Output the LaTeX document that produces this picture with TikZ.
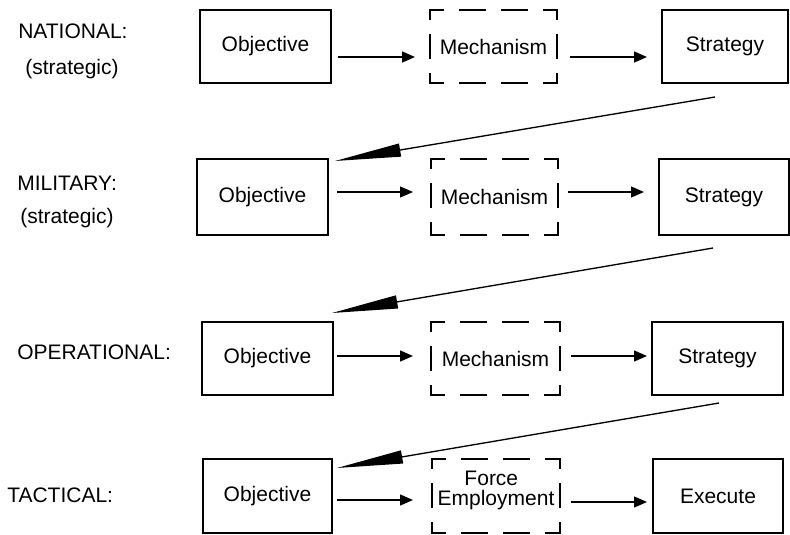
\documentclass[tikz,border=0pt]{standalone}
\usepackage{fontspec}
\setmainfont{Liberation Sans}
\usetikzlibrary{arrows.meta,calc}
\newcommand\dbox[1]{%
  \draw[hdash] (#1.north west) -- (#1.north east);
  \draw[hdash] (#1.south west) -- (#1.south east);
  \draw[vdash] (#1.north west) -- (#1.south west);
  \draw[vdash] (#1.north east) -- (#1.south east);}
\begin{document}
\begin{tikzpicture}[x=0.75pt,y=-0.75pt,
  txt/.style={font=\fontsize{15.75}{14.5}\selectfont},
  bx/.style 2 args={txt,line width=1.5pt,minimum width=#1*0.75pt,minimum height=#2*0.75pt,inner sep=0pt,outer sep=0pt,align=center},
  sbox/.style 2 args={bx={#1}{#2},draw},
  hdash/.style={line width=1.5pt,line cap=rect,dash pattern=on 18.75pt off 12.75pt,dash phase=9pt},
  vdash/.style={line width=1.5pt,line cap=rect,dash pattern=on 17.25pt off 12pt,dash phase=10.5pt},
  arr/.style={line width=1pt,-{Triangle[length=9.75pt,width=8.25pt]}},
  darr/.style={line width=1pt,-{Triangle[length=49.5pt,width=9.75pt]}},
  lab/.style={txt,anchor=west,inner sep=0pt}]
\useasboundingbox (0,0) rectangle (790,535);

% labels
\node[lab] (l1) at (18,31) {NATIONAL:};
\node[lab] (l1b) at (25,69) {(strategic)};
\node[lab] (l2) at (17,183) {MILITARY:};
\node[lab] (l2b) at (20,218) {(strategic)};
\node[lab] (l3) at (17,352) {OPERATIONAL:};
\node[lab] (l4) at (7,495) {TACTICAL:};

% row 1
\node[sbox={131}{73}] (o1) at (265.5,46.5) {Objective};
\node[bx={127}{73}] (m1) at (493.5,46.5) {Mechanism};
\node[sbox={126}{73}] (s1) at (725,46.5) {Strategy};
\dbox{m1}
% row 2
\node[sbox={131}{76}] (o2) at (262.5,197) {Objective};
\node[bx={127}{76}] (m2) at (494.5,197) {Mechanism};
\node[sbox={130}{76}] (s2) at (724,197) {Strategy};
\dbox{m2}
% row 3
\node[sbox={131}{73}] (o3) at (267.5,358.5) {Objective};
\node[bx={129}{73}] (m3) at (495.5,358.5) {Mechanism};
\node[sbox={131}{73}] (s3) at (717.5,358.5) {Strategy};
\dbox{m3}
% row 4
\node[sbox={129}{74}] (o4) at (267.5,496) {Objective};
\node[bx={128}{74}] (m4) at (496,496) {\hspace*{-7pt}Force\\Employment\\[-3pt]};
\node[sbox={130}{74}] (s4) at (718,496) {Execute};
\dbox{m4}

% horizontal arrows
\draw[arr] ($(o1.east)+(7,10.5)$) -- ($(m1.west)+(-15,10.5)$);
\draw[arr] ($(m1.east)+(13,10.5)$) -- ($(s1.west)+(-15,10.5)$);
\draw[arr] ($(o2.east)+(9,-5)$) -- ($(m2.west)+(-18,-5)$);
\draw[arr] ($(m2.east)+(10,-5)$) -- ($(s2.west)+(-15,-5)$);
\draw[arr] ($(o3.east)+(4,-2.5)$) -- ($(m3.west)+(-18,-2.5)$);
\draw[arr] ($(m3.east)+(11,-2.5)$) -- ($(s3.west)+(-5,-2.5)$);
\draw[arr] ($(o4.east)+(5,4)$) -- ($(m4.west)+(-19,4)$);
\draw[arr] ($(m4.east)+(11,6)$) -- ($(s4.west)+(-6,6)$);

% diagonal arrows
\draw[darr] ($(s1.south)+(-10,14)$) -- ($(o2.north east)+(7,2)$);
\draw[darr] ($(s2.south)+(-11,13)$) -- ($(o3.north east)+(-1,-9)$);
\draw[darr] ($(s3.south)+(1.5,8)$) -- ($(o4.north east)+(5,9)$);
\end{tikzpicture}
\end{document}
